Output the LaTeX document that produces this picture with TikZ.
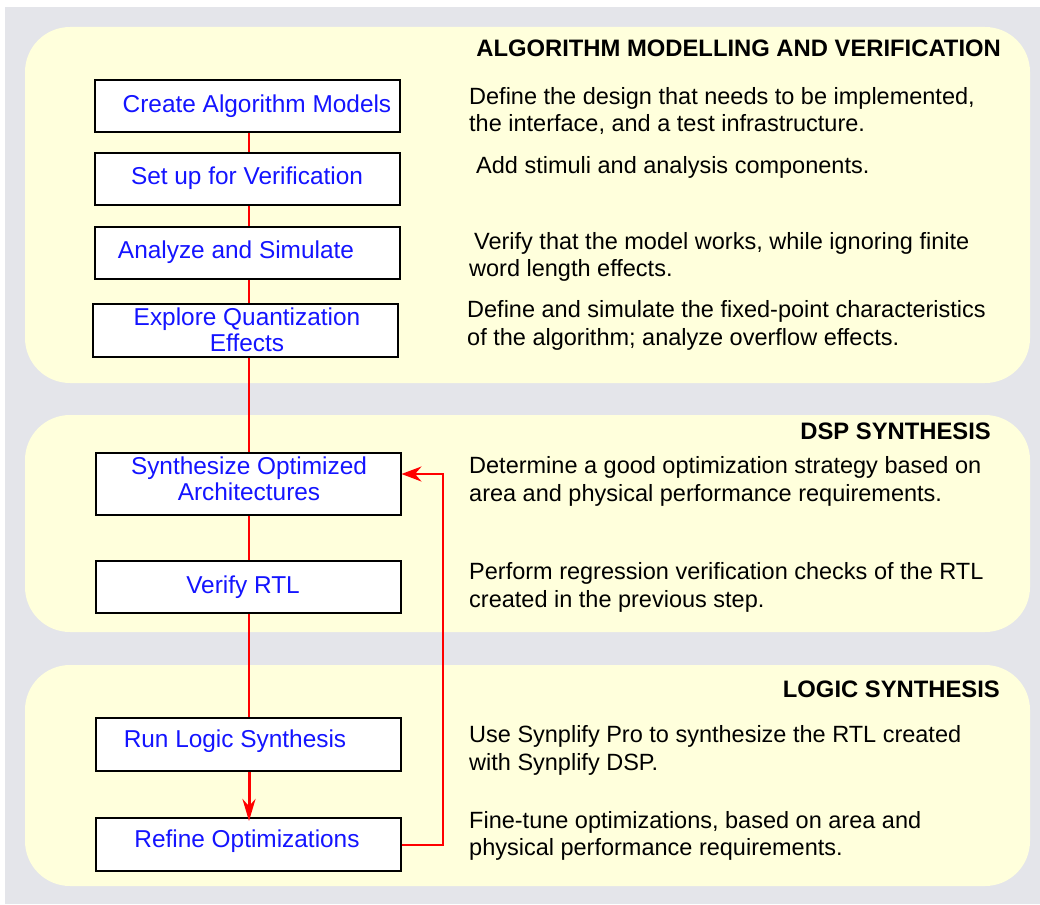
\documentclass[tikz,border=0pt]{standalone}
\usepackage{fontspec}
\setmainfont{Liberation Sans}
\usetikzlibrary{arrows.meta,calc}
\definecolor{pagegray}{HTML}{E4E5EA}
\definecolor{panelyellow}{HTML}{FFFFDC}
\definecolor{stepblue}{HTML}{1414FF}
\definecolor{flowred}{HTML}{FF0000}
\tikzset{
  panel/.style={fill=panelyellow, draw=none, rounded corners=45pt},
  stepbox/.style={draw=black, line width=2pt, fill=white, minimum width=305pt, inner sep=0pt},
  steptext/.style={text=stepblue, font=\fontsize{24.4}{26.5}\selectfont, align=center, inner sep=0pt},
  desc/.style={anchor=west, font=\fontsize{23.5}{27.5}\selectfont, align=left, inner sep=0pt},
  heading/.style={anchor=east, font=\fontsize{23.8}{27}\selectfont\bfseries, inner sep=0pt},
  flow/.style={draw=flowred, line width=2pt},
  flowbold/.style={draw=flowred, line width=3pt, -{Stealth[length=22pt,width=13pt]}},
  feedback/.style={draw=flowred, line width=2pt, -{Stealth[length=20pt,width=15pt]}}
}
\begin{document}
\begin{tikzpicture}[x=1pt,y=-1pt]
\useasboundingbox (0,0) rectangle (1040,904);
% background
\fill[pagegray] (5,7) rectangle (1040,904);
% phase panels
\fill[panel] (25,27) rectangle (1030,383);
\fill[panel] (25,415) rectangle (1030,632);
\fill[panel] (25,665) rectangle (1030,886);

% headings
\node[heading] (h1) at (1001,48) {ALGORITHM MODELLING AND VERIFICATION};
\node[heading] (h2) at (991,431) {DSP SYNTHESIS};
\node[heading] (h3) at (1000,689) {LOGIC SYNTHESIS};

% flow spine
\coordinate (spine) at (249,0);

% step boxes
\node[stepbox, minimum height=52pt] (b1) at (247.5,106) {};
\node[stepbox, minimum height=52pt] (b2) at (247.5,179) {};
\node[stepbox, minimum height=52pt] (b3) at (247.5,253) {};
\node[stepbox, minimum height=53pt] (b4) at (245,330.5) {};
\node[stepbox, minimum height=62pt] (b5) at (248,484) {};
\node[stepbox, minimum height=52pt] (b6) at (248,587) {};
\node[stepbox, minimum height=53pt] (b7) at (248,744.5) {};
\node[stepbox, minimum height=53pt] (b8) at (248,844.5) {};

% connectors
\draw[flow] (spine |- b1.south) -- (spine |- b2.north);
\draw[flow] (spine |- b2.south) -- (spine |- b3.north);
\draw[flow] (spine |- b3.south) -- (spine |- b4.north);
\draw[flow] (spine |- b4.south) -- (spine |- b5.north);
\draw[flow] (spine |- b5.south) -- (spine |- b6.north);
\draw[flow] (spine |- b6.south) -- (spine |- b7.north);
\draw[flowbold] (spine |- b7.south) -- ($(spine |- b8.north)+(0,4)$);
\coordinate (fb) at (443,474);
\draw[feedback] (b8.east) -| (fb) -- (fb -| b5.east);

% step labels
\node[steptext] (t1) at (257,106) {Create Algorithm Models};
\node[steptext] (t2) at (247,178) {Set up for Verification};
\node[steptext] (t3) at (236,252) {Analyze and Simulate};
\node[steptext] (t4) at (247,330) {Explore Quantization\\Effects};
\node[steptext] (t5) at (249,479) {Synthesize Optimized\\Architectures};
\node[steptext] (t6) at (243,587) {Verify RTL};
\node[steptext] (t7) at (235,741) {Run Logic Synthesis};
\node[steptext] (t8) at (247,841) {Refine Optimizations};

% descriptions
\node[desc] (d1) at (469,111) {Define the design that needs to be implemented,\\the interface, and a test infrastructure.};
\node[desc] (d2) at (476,167) {Add stimuli and analysis components.};
\node[desc] (d3) at (469,257) {\hspace{5pt}Verify that the model works, while ignoring finite\\word length effects.};
\node[desc] (d4) at (467,325.5) {Define and simulate the fixed-point characteristics\\of the algorithm; analyze overflow effects.};
\node[desc] (d5) at (469,481.5) {Determine a good optimization strategy based on\\area and physical performance requirements.};
\node[desc] (d6) at (469,587.5) {Perform regression verification checks of the RTL\\created in the previous step.};
\node[desc] (d7) at (469,750.5) {Use Synplify Pro to synthesize the RTL created\\with Synplify DSP.};
\node[desc] (d8) at (469,836) {Fine-tune optimizations, based on area and\\physical performance requirements.};
\end{tikzpicture}
\end{document}
